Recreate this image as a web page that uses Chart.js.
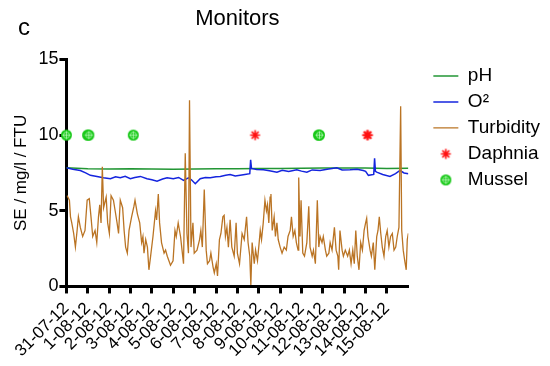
<!DOCTYPE html>
<html>
<head>
<meta charset="utf-8">
<script src="https://cdn.jsdelivr.net/npm/chart.js@4"></script>
<style>
  html, body { margin: 0; padding: 0; background: #fff; }
  #wrap { position: relative; width: 550px; height: 366px; }
  #panel { position: absolute; left: 18px; top: 13px; font: 24px Arial, "Liberation Sans", sans-serif; color: #000; }
</style>
</head>
<body>
<div id="wrap">
  <canvas id="monitorsChart" width="550" height="366"></canvas>
  <div id="panel">c</div>
</div>
<script>
// tick labels, one per day
const dayLabels = ['31-07-12', '1-08-12', '2-08-12', '3-08-12', '4-08-12', '5-08-12', '6-08-12', '7-08-12',
    '8-08-12', '9-08-12', '10-08-12', '11-08-12', '12-08-12', '13-08-12', '14-08-12', '15-08-12'];

// pH (days since 31-07-12)
const phDays = [0, 1, 2, 3, 4, 5, 6, 7, 8, 9, 10, 11, 12, 13, 14, 15, 16];
const phValues = [7.84, 7.78, 7.76, 7.78, 7.76, 7.75, 7.76, 7.77, 7.78, 7.80, 7.80, 7.81, 7.82, 7.83, 7.82, 7.80, 7.81];

// dissolved oxygen
const o2Days = [0.00, 0.30, 0.65, 0.90, 1.12, 1.43, 1.73, 2.06, 2.30, 2.52,
    2.75, 2.99, 3.20, 3.46, 3.77, 4.00, 4.24, 4.50, 4.71, 5.00,
    5.25, 5.48, 5.71, 5.85, 6.03, 6.26, 6.50, 6.73, 7.00, 7.20,
    7.45, 7.66, 7.90, 8.13, 8.35, 8.58, 8.62, 8.66, 8.90, 9.22,
    9.50, 9.85, 10.10, 10.40, 10.78, 11.00, 11.25, 11.50, 11.87, 12.20,
    12.65, 12.90, 13.27, 13.60, 13.89, 14.00, 14.13, 14.38, 14.42, 14.46,
    14.52, 14.80, 15.14, 15.40, 15.61, 15.80, 16.00];
const o2Values = [7.84, 7.75, 7.66, 7.50, 7.34, 7.27, 7.18, 7.12, 7.25, 7.18,
    7.28, 7.12, 7.20, 7.27, 7.12, 7.05, 6.96, 7.10, 7.18, 7.12,
    7.20, 7.00, 7.18, 7.05, 6.79, 7.12, 7.20, 7.18, 7.25, 7.27,
    7.35, 7.40, 7.30, 7.35, 7.40, 7.45, 8.37, 7.80, 7.72, 7.71,
    7.65, 7.55, 7.68, 7.60, 7.71, 7.62, 7.55, 7.70, 7.66, 7.75,
    7.84, 7.70, 7.71, 7.75, 7.66, 7.60, 7.34, 7.40, 8.47, 7.60,
    7.55, 7.40, 7.27, 7.45, 7.66, 7.50, 7.45];

// turbidity
const turbidityDays = [0.03, 0.14, 0.19, 0.25, 0.34, 0.42, 0.50, 0.56, 0.65, 0.76,
    0.87, 0.97, 1.07, 1.15, 1.23, 1.34, 1.42, 1.50, 1.56, 1.62,
    1.68, 1.74, 1.86, 1.93, 2.01, 2.09, 2.20, 2.28, 2.37, 2.44,
    2.52, 2.63, 2.70, 2.77, 2.85, 2.93, 3.05, 3.16, 3.21, 3.32,
    3.43, 3.52, 3.58, 3.63, 3.71, 3.79, 3.86, 3.94, 4.05, 4.17,
    4.22, 4.30, 4.36, 4.45, 4.57, 4.64, 4.72, 4.87, 4.99, 5.08,
    5.14, 5.23, 5.34, 5.41, 5.48, 5.56, 5.64, 5.71, 5.76, 5.83,
    5.92, 5.98, 6.11, 6.23, 6.29, 6.36, 6.45, 6.54, 6.60, 6.70,
    6.76, 6.86, 6.92, 7.01, 7.07, 7.16, 7.23, 7.32, 7.38, 7.44,
    7.51, 7.58, 7.66, 7.74, 7.85, 7.94, 8.00, 8.10, 8.22, 8.32,
    8.43, 8.50, 8.58, 8.63, 8.69, 8.79, 8.85, 8.94, 9.00, 9.07,
    9.13, 9.21, 9.29, 9.36, 9.41, 9.47, 9.53, 9.57, 9.63, 9.72,
    9.78, 9.85, 9.91, 10.00, 10.09, 10.19, 10.29, 10.37, 10.47, 10.53,
    10.61, 10.69, 10.76, 10.84, 10.87, 10.93, 10.98, 11.06, 11.14, 11.25,
    11.34, 11.40, 11.50, 11.56, 11.65, 11.74, 11.81, 11.87, 11.96, 12.02,
    12.12, 12.18, 12.28, 12.34, 12.43, 12.54, 12.62, 12.70, 12.74, 12.80,
    12.90, 12.96, 13.05, 13.16, 13.24, 13.32, 13.40, 13.47, 13.54, 13.61,
    13.69, 13.77, 13.85, 13.93, 14.00, 14.05, 14.11, 14.21, 14.27, 14.36,
    14.43, 14.52, 14.58, 14.64, 14.71, 14.78, 14.86, 14.94, 15.01, 15.09,
    15.17, 15.25, 15.33, 15.41, 15.48, 15.56, 15.64, 15.69, 15.76, 15.83,
    15.90, 15.95, 16.00];
const turbidityValues = [6.0, 5.7, 4.6, 4.2, 3.5, 2.6, 3.7, 4.6, 3.9, 3.3,
    3.7, 5.7, 5.8, 4.6, 3.3, 3.7, 2.9, 4.6, 5.4, 4.2,
    7.9, 5.2, 5.9, 4.2, 3.5, 6.0, 5.7, 5.0, 4.2, 3.5,
    5.7, 5.2, 3.7, 2.6, 2.2, 3.7, 4.6, 5.3, 5.7, 4.8,
    4.2, 2.9, 3.3, 2.2, 3.1, 2.6, 1.1, 2.0, 3.3, 5.0,
    4.4, 6.1, 4.2, 2.9, 2.2, 2.4, 2.0, 1.4, 1.7, 3.7,
    3.3, 4.2, 3.3, 2.4, 1.5, 8.8, 3.5, 2.2, 12.3, 2.6,
    4.2, 2.2, 2.4, 3.1, 3.7, 2.6, 6.4, 2.4, 1.5, 1.7,
    2.2, 1.3, 0.9, 1.5, 0.7, 3.1, 3.5, 4.6, 4.7, 3.3,
    3.9, 2.6, 4.4, 2.6, 2.0, 4.2, 2.2, 1.5, 3.5, 3.1,
    4.6, 2.9, 2.0, 0.1, 2.9, 1.5, 2.4, 1.7, 2.6, 3.7,
    3.1, 4.2, 5.7, 5.0, 5.4, 4.2, 5.9, 6.1, 3.7, 4.6,
    3.3, 4.2, 3.1, 2.6, 2.2, 2.6, 2.4, 3.3, 3.7, 4.6,
    3.3, 3.7, 2.9, 2.4, 7.2, 3.3, 5.7, 2.2, 2.0, 2.9,
    5.3, 2.6, 2.0, 2.4, 1.5, 5.7, 2.6, 3.3, 2.9, 3.3,
    2.4, 2.0, 2.2, 2.9, 2.4, 3.9, 2.4, 2.0, 1.1, 3.7,
    2.4, 2.0, 2.4, 2.0, 2.4, 1.5, 2.4, 1.5, 3.7, 2.0,
    1.1, 2.9, 2.4, 3.7, 4.2, 4.5, 3.3, 2.4, 2.0, 2.9,
    1.1, 3.3, 3.7, 4.6, 3.5, 2.6, 2.0, 3.3, 3.7, 2.6,
    3.3, 3.5, 2.4, 2.6, 3.3, 3.9, 11.9, 3.7, 2.4, 1.7,
    1.1, 3.1, 3.5];

// organism alarms, plotted at 10
const daphniaDays = [8.83, 14.07, 14.11];
const daphniaValues = [10, 10, 10];
const musselDays = [0, 0.99, 1.05, 3.13, 11.79, 11.84];
const musselValues = [10, 10, 10, 10, 10, 10];

const phColor = 'rgb(34, 150, 52)';
const o2Color = 'rgb(20, 36, 222)';
const turbidityColor = 'rgb(186, 116, 36)';
const daphniaColor = 'rgb(255, 16, 16)';
const musselColor = 'rgb(24, 200, 24)';

function toPoints(xs, ys) {
    return xs.map((x, i) => ({ x: x, y: ys[i] }));
}

// circle-with-cross marker for the mussel
const musselIcon = document.createElement('canvas');
musselIcon.width = 13;
musselIcon.height = 13;
const mctx = musselIcon.getContext('2d');
mctx.fillStyle = musselColor;
mctx.beginPath();
mctx.arc(6.5, 6.5, 5.5, 0, Math.PI * 2);
mctx.fill();
mctx.strokeStyle = 'rgba(200, 255, 200, 0.7)';
mctx.lineWidth = 1;
mctx.beginPath();
mctx.arc(6.5, 6.5, 3, 0, Math.PI * 2);
mctx.moveTo(6.5, 2.5);
mctx.lineTo(6.5, 10.5);
mctx.moveTo(2.5, 6.5);
mctx.lineTo(10.5, 6.5);
mctx.stroke();

// asterisk marker for daphnia
const daphniaIcon = document.createElement('canvas');
daphniaIcon.width = 13;
daphniaIcon.height = 13;
const dctx = daphniaIcon.getContext('2d');
dctx.strokeStyle = daphniaColor;
dctx.lineWidth = 1.7;
dctx.beginPath();
dctx.moveTo(6.5, 1.5); dctx.lineTo(6.5, 11.5);
dctx.moveTo(1.5, 6.5); dctx.lineTo(11.5, 6.5);
dctx.moveTo(3, 3); dctx.lineTo(10, 10);
dctx.moveTo(10, 3); dctx.lineTo(3, 10);
dctx.stroke();

// push the legend entries away from the plot
const legendShift = {
    id: 'legendShift',
    afterLayout(chart) {
        chart.legend.left += 18;
        chart.legend.right += 18;
    }
};

Chart.defaults.font.family = 'Arial, "Liberation Sans", sans-serif';
Chart.defaults.color = '#000';

const ctx = document.getElementById('monitorsChart');
new Chart(ctx, {
    type: 'scatter',
    data: {
        datasets: [{
            label: 'pH',
            data: toPoints(phDays, phValues),
            showLine: true,
            borderColor: phColor,
            backgroundColor: phColor,
            borderWidth: 1.5,
            pointRadius: 0,
            pointStyle: 'line',
            order: 3
        }, {
            label: 'O²',
            data: toPoints(o2Days, o2Values),
            showLine: true,
            borderColor: o2Color,
            backgroundColor: o2Color,
            borderWidth: 1.5,
            pointRadius: 0,
            pointStyle: 'line',
            order: 2
        }, {
            label: 'Turbidity',
            data: toPoints(turbidityDays, turbidityValues),
            showLine: true,
            borderColor: turbidityColor,
            backgroundColor: turbidityColor,
            borderWidth: 1.3,
            pointRadius: 0,
            pointStyle: 'line',
            order: 1
        }, {
            label: 'Daphnia',
            data: toPoints(daphniaDays, daphniaValues),
            showLine: false,
            pointStyle: daphniaIcon,
            borderColor: daphniaColor,
            backgroundColor: daphniaColor,
            order: 0
        }, {
            label: 'Mussel',
            data: toPoints(musselDays, musselValues),
            showLine: false,
            pointStyle: musselIcon,
            borderColor: musselColor,
            backgroundColor: musselColor,
            clip: false,
            order: 0
        }]
    },
    options: {
        responsive: false,
        animation: false,
        layout: {
            padding: { left: 11, right: 18, top: 0, bottom: 0 }
        },
        plugins: {
            title: {
                display: true,
                text: 'Monitors',
                fullSize: false,
                color: '#000',
                font: { size: 22, weight: 'normal' },
                padding: { top: 6, bottom: 27 }
            },
            legend: {
                position: 'right',
                align: 'start',
                fullSize: false,
                labels: {
                    usePointStyle: true,
                    pointStyleWidth: 25,
                    boxHeight: 7,
                    padding: 7,
                    color: '#000',
                    font: { size: 19 },
                    sort: (a, b) => a.datasetIndex - b.datasetIndex
                }
            },
            tooltip: { enabled: false }
        },
        scales: {
            x: {
                type: 'linear',
                min: 0,
                max: 16,
                afterBuildTicks: (axis) => {
                    axis.ticks = dayLabels.map((_, i) => ({ value: i }));
                },
                ticks: {
                    autoSkip: false,
                    minRotation: 45,
                    maxRotation: 45,
                    padding: 5,
                    color: '#000',
                    font: { size: 17 },
                    callback: (value) => dayLabels[value] ?? ''
                },
                grid: {
                    drawOnChartArea: false,
                    tickLength: 7,
                    tickWidth: 3,
                    tickColor: '#000'
                },
                border: { color: '#000', width: 3 }
            },
            y: {
                min: 0,
                max: 15,
                ticks: {
                    stepSize: 5,
                    padding: 1,
                    color: '#000',
                    font: { size: 18 }
                },
                grid: {
                    drawOnChartArea: false,
                    tickLength: 7,
                    tickWidth: 3,
                    tickColor: '#000'
                },
                border: { color: '#000', width: 3 },
                title: {
                    display: true,
                    text: 'SE / mg/l / FTU',
                    color: '#000',
                    font: { size: 17 },
                    padding: { top: 0, bottom: 6 }
                }
            }
        }
    },
    plugins: [legendShift]
});
</script>
</body>
</html>
